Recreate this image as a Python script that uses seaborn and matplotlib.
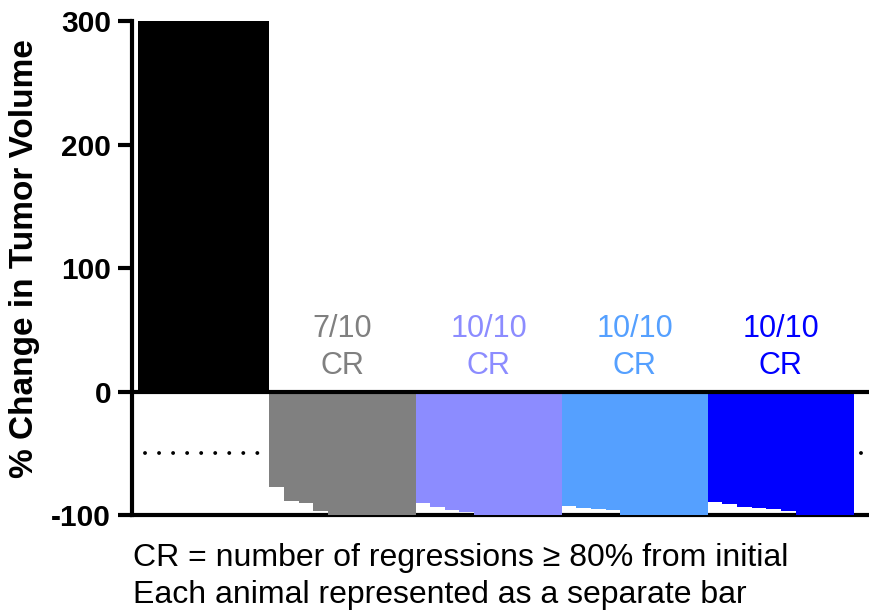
import matplotlib
matplotlib.use("Agg")
import matplotlib.pyplot as plt
import seaborn as sns
import pandas as pd
import numpy as np

# ---- data ----
groups = ["Control", "Group A", "Group B", "Group C", "Group D"]
control = [300, 300, 300, 300, 300, 300, 300, 300, 300]
group_a = [-77.5, -88.3, -90.1, -96.9, -100, -100, -100, -100, -100, -100]
group_b = [-90.1, -93.4, -96.1, -97.2, -100, -100, -100, -100, -100, -100]
group_c = [-93.1, -94.2, -95.0, -96.1, -100, -100, -100, -100, -100, -100]
group_d = [-89.6, -90.7, -93.4, -94.2, -95.5, -96.4, -100, -100, -100, -100]
cr_labels = ["", "7/10\nCR", "10/10\nCR", "10/10\nCR", "10/10\nCR"]
colors = ["#000000", "#808080", "#8c8cff", "#55a0ff", "#0000ff"]
yticks = [-100, 0, 100, 200, 300]
footnote1 = "CR = number of regressions \u2265 80% from initial"
footnote2 = "Each animal represented as a separate bar"

series = [control, group_a, group_b, group_c, group_d]
rows = []
for g, vals in zip(groups, series):
    for v in vals:
        rows.append({"group": g, "value": v})
df = pd.DataFrame(rows)
df["animal"] = [f"a{i}" for i in range(len(df))]

sns.set_theme(style="white")
plt.rcParams["font.family"] = ["Liberation Sans", "DejaVu Sans"]
plt.rcParams["text.color"] = "black"
plt.rcParams["ytick.labelcolor"] = "black"
plt.rcParams["ytick.color"] = "black"

fig = plt.figure(figsize=(8.69, 6.11), dpi=100)
ax = fig.add_axes([132 / 869, 1 - 515 / 611, 737 / 869, (515 - 21) / 611])

sns.barplot(data=df, x="animal", y="value", hue="group", palette=colors,
            dodge=False, width=1.0, linewidth=0, legend=False, ax=ax,
            errorbar=None, saturation=1, zorder=3)

ax.set_ylim(-100, 300)
ax.set_xlim(-0.91, 49.53)
ax.set_yticks(yticks)
ax.set_yticklabels([str(t) for t in yticks], fontsize=21.5, fontweight="bold",
                   color="black")
ax.set_xticks([])
ax.set_xlabel("")
ax.set_ylabel("")

for s in ["top", "right"]:
    ax.spines[s].set_visible(False)
for s in ["left", "bottom"]:
    ax.spines[s].set_linewidth(3)
    ax.spines[s].set_color("black")
ax.tick_params(axis="y", length=10, width=3, color="black", pad=5, left=True)

# zero line and dotted reference line
ax.axhline(0, color="black", lw=3, zorder=4)
ax.axhline(-50, xmin=0.018, xmax=0.997, color="black", lw=2.8,
           dashes=(0.01, 3.6), dash_capstyle="round", zorder=1)

# annotations
start = 0
for vals, lab, c in zip(series, cr_labels, colors):
    n = len(vals)
    center = start + (n - 1) / 2
    if lab:
        top, bottom = lab.split("\n")
        ax.text(center, 50.5, top, color=c, fontsize=22, ha="center", va="center")
        ax.text(center, 21, bottom, color=c, fontsize=22, ha="center", va="center")
    start += n

fig.text(25 / 869, 1 - 259 / 611, "% Change in Tumor Volume", rotation=90,
         fontsize=24, fontweight="bold", ha="center", va="center")
fig.text(133 / 869, 1 - 566 / 611, footnote1, fontsize=23, ha="left", va="baseline")
fig.text(133 / 869, 1 - 603 / 611, footnote2, fontsize=23, ha="left", va="baseline")

fig.savefig("out.png", dpi=100)
